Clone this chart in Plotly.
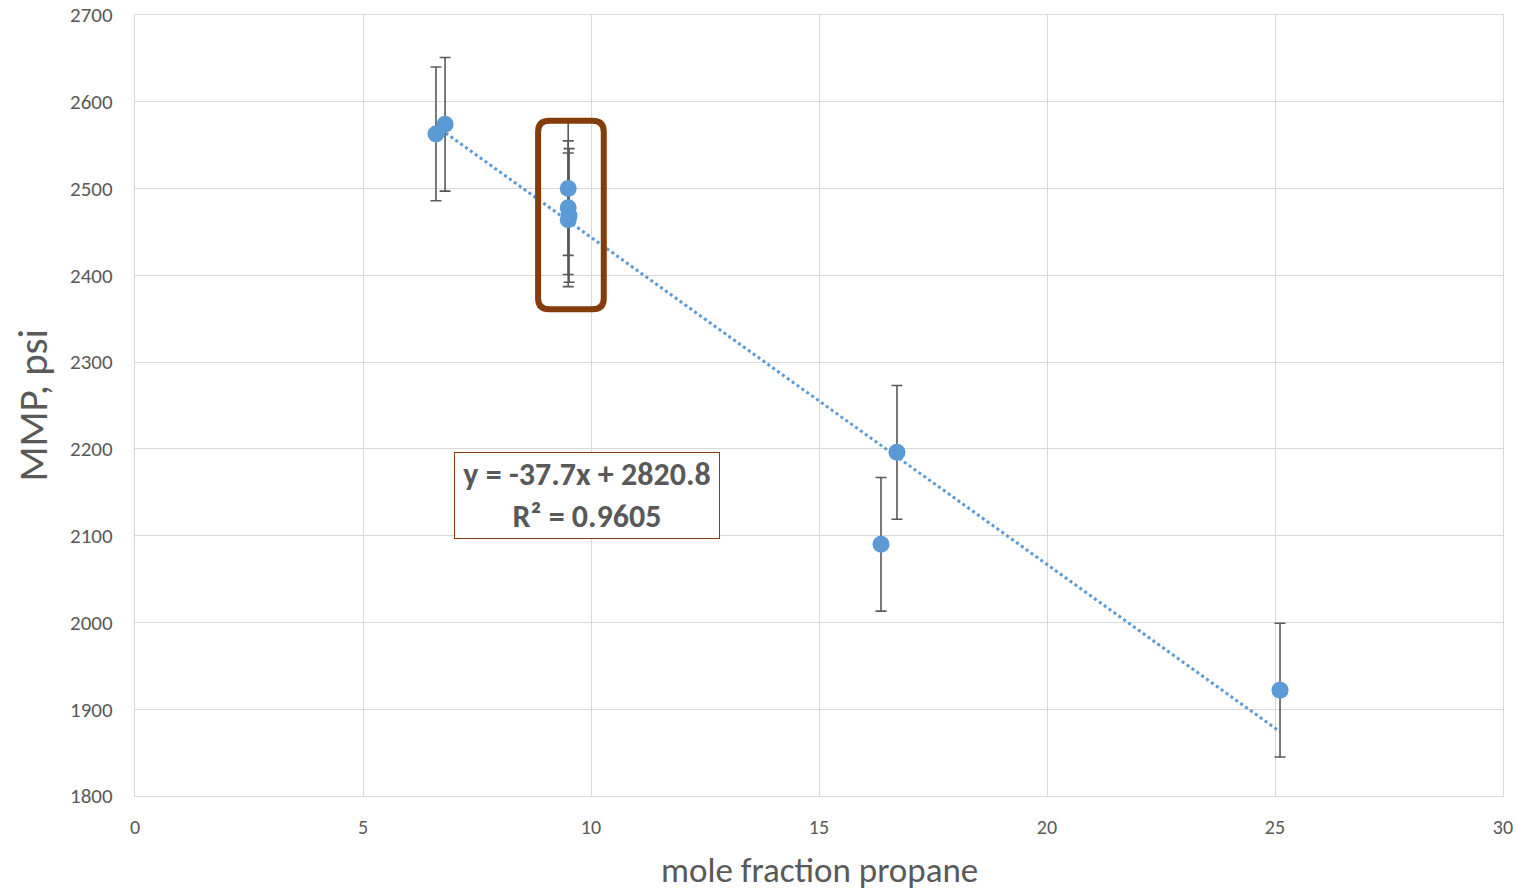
import plotly.graph_objects as go

# Measured MMP vs. propane content
mole_fraction_propane = [6.60, 6.80, 9.50, 9.50, 9.52, 9.50, 16.36, 16.71, 25.11]
mmp_psi = [2563, 2574, 2500, 2478, 2469, 2464, 2090, 2196, 1922]
mmp_error = [77, 77, 77, 77, 77, 77, 77, 77, 77]

# Linear trendline coefficients (as reported on the chart)
slope = -37.7
intercept = 2820.8
r_squared = 0.9605

# Region outlined to highlight the repeated measurements near 9.5 %
highlight_x = (8.84, 10.28)
highlight_y = (2361, 2578)

x_ticks = [0, 5, 10, 15, 20, 25, 30]
y_ticks = [1800, 1900, 2000, 2100, 2200, 2300, 2400, 2500, 2600, 2700]

FONT = "Carlito, Calibri, Lato, sans-serif"
GREY = "#595959"
BLUE = "#5b9bd5"
BROWN = "#843c0c"

fig = go.Figure()

# Dotted linear trendline spanning the data range
x_min, x_max = min(mole_fraction_propane), max(mole_fraction_propane)
fig.add_trace(go.Scatter(
    x=[x_min, x_max],
    y=[slope * x_min + intercept, slope * x_max + intercept],
    mode="lines",
    line=dict(color=BLUE, width=3, dash="dot"),
    hoverinfo="skip",
    showlegend=False,
))

# Measurements with symmetric error bars
fig.add_trace(go.Scatter(
    x=mole_fraction_propane,
    y=mmp_psi,
    mode="markers",
    marker=dict(color=BLUE, size=17),
    error_y=dict(type="data", array=mmp_error, visible=True,
                 color=GREY, thickness=1.6, width=5.5),
    showlegend=False,
))

# Rounded highlight box (corner radius given in pixels, converted to data units)
plot_w, plot_h = 1368, 781
px_per_x = plot_w / (x_ticks[-1] - x_ticks[0])
px_per_y = plot_h / (y_ticks[-1] - y_ticks[0])
r_px = 11
rx, ry = r_px / px_per_x, r_px / px_per_y
x0, x1 = highlight_x
y0, y1 = highlight_y
path = (
    f"M {x0 + rx},{y1} L {x1 - rx},{y1} Q {x1},{y1} {x1},{y1 - ry} "
    f"L {x1},{y0 + ry} Q {x1},{y0} {x1 - rx},{y0} "
    f"L {x0 + rx},{y0} Q {x0},{y0} {x0},{y0 + ry} "
    f"L {x0},{y1 - ry} Q {x0},{y1} {x0 + rx},{y1} Z"
)
fig.add_shape(type="path", path=path, xref="x", yref="y",
              line=dict(color=BROWN, width=6))

# Trendline equation label
fig.add_annotation(
    x=9.91, y=2146, xref="x", yref="y",
    text=f"y = {slope}x + {intercept}<br>R² = {r_squared}",
    showarrow=False,
    font=dict(family=FONT, size=32, color=GREY, weight="bold"),
    bgcolor="white", bordercolor=BROWN, borderwidth=1, borderpad=6,
    width=252, height=73,
)

# Axis titles
fig.add_annotation(
    x=0.5, y=0, xref="paper", yref="paper", yshift=-74,
    text="mole fraction propane", showarrow=False,
    xanchor="center", yanchor="middle",
    font=dict(family=FONT, size=35, color=GREY),
)
fig.add_annotation(
    x=0, y=0.5, xref="paper", yref="paper", xshift=-103,
    text="MMP, psi", showarrow=False, textangle=-90,
    xanchor="center", yanchor="middle",
    font=dict(family=FONT, size=41, color=GREY),
)

fig.update_xaxes(
    range=[x_ticks[0], x_ticks[-1]], tickvals=x_ticks, automargin=False,
    showgrid=True, gridcolor="#d9d9d9", gridwidth=1.3,
    showline=True, linecolor="#d9d9d9", linewidth=1.3, mirror=True,
    zeroline=False, ticks="", ticklabelstandoff=13,
    tickfont=dict(family=FONT, size=20, color=GREY),
)
fig.update_yaxes(
    range=[y_ticks[0], y_ticks[-1]], tickvals=y_ticks, automargin=False,
    showgrid=True, gridcolor="#d9d9d9", gridwidth=1.3,
    showline=True, linecolor="#d9d9d9", linewidth=1.3, mirror=True,
    zeroline=False, ticks="", ticklabelstandoff=17,
    tickfont=dict(family=FONT, size=21, color=GREY),
)

fig.update_layout(
    width=1521, height=892,
    margin=dict(l=135, r=18, t=15, b=96),
    paper_bgcolor="white", plot_bgcolor="white",
    showlegend=False,
)

fig.write_html("out.html")
